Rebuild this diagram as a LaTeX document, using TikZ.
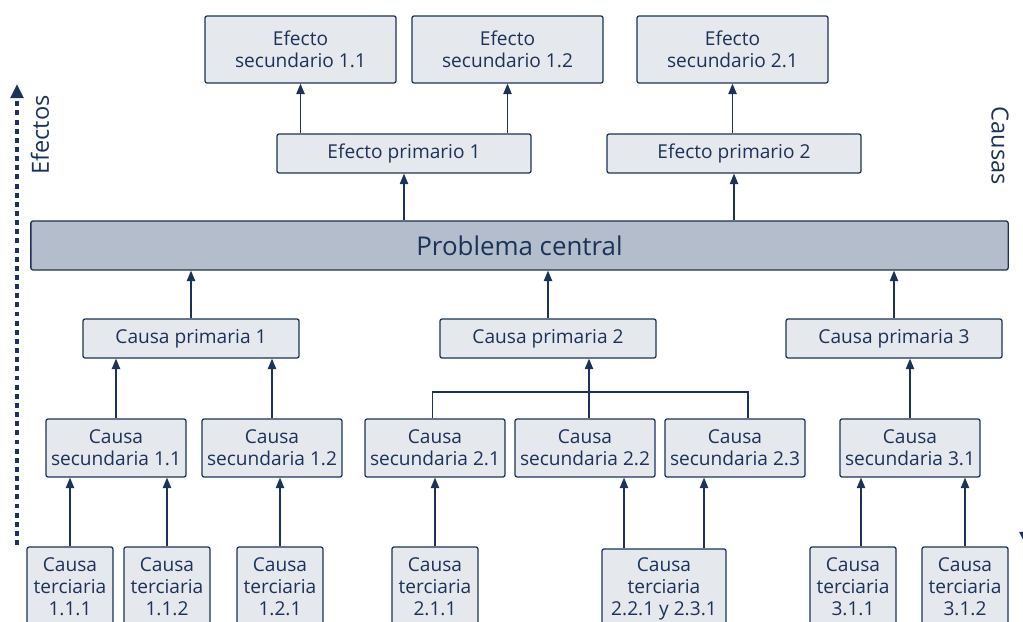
\documentclass[tikz,border=0pt]{standalone}
\usepackage{fontspec}
\setmainfont{Open Sans}
\usetikzlibrary{arrows.meta}

\definecolor{inkblue}{HTML}{1B3358}
\definecolor{boxfill}{HTML}{E5E8ED}
\definecolor{centralfill}{HTML}{B4BDCB}

\tikzset{
  nodebox/.style={draw=inkblue, fill=boxfill, rounded corners=1.5pt, line width=0.9pt,
    text=inkblue, align=center, inner sep=1pt, font=\fontsize{13.6}{15.6}\selectfont},
  effectbox/.style={nodebox, minimum width=4.775cm, minimum height=1.675cm},
  primbox/.style={nodebox, minimum height=0.975cm},
  secbox/.style={nodebox, minimum width=3.5cm, minimum height=1.45cm},
  terbox/.style={nodebox, minimum width=2.15cm, minimum height=2cm},
  centralbox/.style={nodebox, fill=centralfill, minimum width=24.425cm, minimum height=1.225cm,
    font=\fontsize{18.4}{22}\selectfont},
  sidelabel/.style={text=inkblue, font=\fontsize{16.8}{20}\selectfont, inner sep=0pt},
  dotarrow/.style={draw=inkblue, line width=2.4pt, dash pattern=on 3.5pt off 3pt,
    -{Triangle[length=10pt,width=9pt]}}
}

\begin{document}
\begin{tikzpicture}[x=0.025cm, y=-0.025cm, line width=0.9pt, draw=inkblue,
    >={Triangle[length=7.5pt,width=6pt]}]
    \useasboundingbox (0,0) rectangle (1023,622);

    % efectos
    \node[effectbox](ES11) at (300.5, 49.5) {Efecto\\secundario 1.1};
    \node[effectbox](ES12) at (507.5, 49.5) {Efecto\\secundario 1.2};
    \node[effectbox](ES21) at (732.5, 49.5) {Efecto\\secundario 2.1};
    \node[primbox, minimum width=6.35cm](EP1) at (404, 153.5) {Efecto primario 1};
    \node[primbox, minimum width=6.35cm](EP2) at (734, 153.5) {Efecto primario 2};

    \node[centralbox](PC) at (519.5, 245.5) {Problema central};

    % causas
    \node[primbox, minimum width=5.4cm](CP1) at (191, 338.5) {Causa primaria 1};
    \node[primbox, minimum width=5.4cm](CP2) at (548, 338.5) {Causa primaria 2};
    \node[primbox, minimum width=5.4cm](CP3) at (894, 338.5) {Causa primaria 3};

    \node[secbox](CS11) at (116, 448) {Causa\\secundaria 1.1};
    \node[secbox](CS12) at (272, 448) {Causa\\secundaria 1.2};
    \node[secbox](CS21) at (435, 448) {Causa\\secundaria 2.1};
    \node[secbox](CS22) at (585, 448) {Causa\\secundaria 2.2};
    \node[secbox](CS23) at (735, 448) {Causa\\secundaria 2.3};
    \node[secbox](CS31) at (910, 448) {Causa\\secundaria 3.1};

    \node[terbox](CT111) at ( 70, 587) {Causa\\terciaria\\1.1.1};
    \node[terbox](CT112) at (167, 587) {Causa\\terciaria\\1.1.2};
    \node[terbox](CT121) at (280, 587) {Causa\\terciaria\\1.2.1};
    \node[terbox](CT211) at (435, 587) {Causa\\terciaria\\2.1.1};
    \node[terbox, minimum width=3.1cm](CT221) at (664, 589) {Causa\\terciaria\\2.2.1 y 2.3.1};
    \node[terbox](CT311) at (853, 587) {Causa\\terciaria\\3.1.1};
    \node[terbox](CT312) at (965, 587) {Causa\\terciaria\\3.1.2};

    % rotulos laterales
    \node[sidelabel, rotate=90](Ef) at (40, 135) {Efectos};
    \node[sidelabel, rotate=-90](Ca) at (1000, 146) {Causas};
    \coordinate (EfBot) at (17, 545);
    \coordinate (EfTop) at (17, 84);
    \coordinate (CaTop) at (1026, 80);
    \coordinate (CaBot) at (1026, 546);
    \draw[dotarrow] (EfBot) -- (EfTop);
    \draw[dotarrow] (CaTop) -- (CaBot);

    \draw[->] (EP1.north -| ES11) -- (ES11.south);
    \draw[->] (EP1.north -| ES12) -- (ES12.south);
    \draw[->] (EP2.north -| ES21) -- (ES21.south);
    \draw[->] (PC.north -| EP1) -- (EP1.south);
    \draw[->] (PC.north -| EP2) -- (EP2.south);

    \draw[->] (CP1.north) -- (CP1.north |- PC.south);
    \draw[->] (CP2.north) -- (CP2.north |- PC.south);
    \draw[->] (CP3.north) -- (CP3.north |- PC.south);

    \draw[->] (CS11.north) -- (CS11.north |- CP1.south);
    \draw[->] (CS12.north) -- (CS12.north |- CP1.south);
    \draw[->] (CS31.north) -- (CS31.north |- CP3.south);
    \coordinate (Br) at (590, 392);
    \draw ([xshift=-0.06cm]CS21.north) |- (Br) -| ([xshift=0.325cm]CS23.north);
    \draw[->] ([xshift=0.1cm]CS22.north) -- ([xshift=0.1cm]CS22.north |- CP2.south);

    \draw[->] (CT111.north) -- (CT111.north |- CS11.south);
    \draw[->] (CT112.north) -- (CT112.north |- CS11.south);
    \draw[->] (CT121.north) -- (CT121.north |- CS12.south);
    \draw[->] (CT211.north) -- (CT211.north |- CS21.south);
    \draw[->] ([xshift=-1cm]CT221.north) -- ([xshift=-1cm]CT221.north |- CS22.south);
    \draw[->] ([xshift=1cm]CT221.north) -- ([xshift=1cm]CT221.north |- CS23.south);
    \draw[->] ([xshift=0.2cm]CT311.north) -- ([xshift=0.2cm]CT311.north |- CS31.south);
    \draw[->] (CT312.north) -- (CT312.north |- CS31.south);
\end{tikzpicture}
\end{document}
